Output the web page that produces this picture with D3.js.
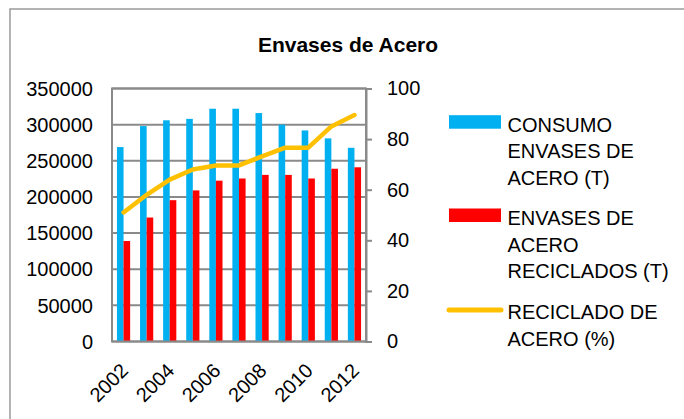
<!DOCTYPE html>
<html><head><meta charset="utf-8">
<script src="https://cdn.jsdelivr.net/npm/d3@7"></script>
<style>
html,body{margin:0;padding:0;background:#fff;}
svg text{font-family:"Liberation Sans",Arial,sans-serif;fill:#000;}
</style></head>
<body>
<svg id="chart" width="684" height="419"></svg>
<script>
const years = ["2002","2003","2004","2005","2006","2007","2008","2009","2010","2011","2012"];
const consumo = [269000,298000,306000,308000,322000,322000,316000,300000,292000,281000,268000];
const reciclados = [139000,171500,195500,209000,222500,225500,230500,230500,225500,239000,241000];
const porcentaje = [51,58,64,68,69.6,69.6,73.2,76.6,76.6,85,89.5];
const leftTicks = [0,50000,100000,150000,200000,250000,300000,350000];
const rightTicks = [0,20,40,60,80,100];
const xLabels = ["2002","2004","2006","2008","2010","2012"];
const legendItems = [
  {lines:["CONSUMO","ENVASES DE","ACERO (T)"], color:"#00B0F0", type:"bar"},
  {lines:["ENVASES DE","ACERO","RECICLADOS (T)"], color:"#FF0000", type:"bar"},
  {lines:["RECICLADO DE","ACERO (%)"], color:"#FFC000", type:"line"}
];

const svg = d3.select("#chart");
const L = 112, R = 366, T = 88.5, B = 341.5;
const gray = "#8a8a8a";

// outer frame
svg.append("rect").attr("x",10).attr("y",9).attr("width",720).attr("height",500)
  .attr("fill","none").attr("stroke","#9a9a9a").attr("stroke-width",1.5);

// title
svg.append("text").attr("x",348).attr("y",52).attr("text-anchor","middle")
  .style("font-size","21px").style("font-weight","bold").text("Envases de Acero");

const x = d3.scaleBand().domain(years).range([L,R]).padding(0);
const yL = d3.scaleLinear().domain([0,350000]).range([B,T]);
const yR = d3.scaleLinear().domain([0,100]).range([B,T]);

// gridlines
svg.append("g").selectAll("line").data(leftTicks).join("line")
  .attr("x1",L).attr("x2",R).attr("y1",d=>yL(d)).attr("y2",d=>yL(d))
  .attr("stroke",gray).attr("stroke-width",2);

// bars
const bw = x.bandwidth()/3.5;
svg.append("g").selectAll("rect").data(years).join("rect")
  .attr("x",d=>x(d)+x.bandwidth()/2-bw).attr("width",bw)
  .attr("y",(d,i)=>yL(consumo[i])).attr("height",(d,i)=>B-yL(consumo[i]))
  .attr("fill","#00B0F0");
svg.append("g").selectAll("rect").data(years).join("rect")
  .attr("x",d=>x(d)+x.bandwidth()/2).attr("width",bw)
  .attr("y",(d,i)=>yL(reciclados[i])).attr("height",(d,i)=>B-yL(reciclados[i]))
  .attr("fill","#FF0000");

// plot frame
svg.append("rect").attr("x",L).attr("y",T).attr("width",R-L).attr("height",B-T)
  .attr("fill","none").attr("stroke",gray).attr("stroke-width",2);

// left axis labels
svg.append("g").selectAll("text").data(leftTicks).join("text")
  .attr("x",93).attr("y",d=>yL(d)).attr("dy","0.36em").attr("text-anchor","end")
  .style("font-size","20px").text(d=>d);

// right axis
const rAxis = d3.axisRight(yR).tickValues(rightTicks).tickSize(6).tickPadding(15).tickFormat(d3.format("d"));
const gR = svg.append("g").attr("transform",`translate(${R},0)`).call(rAxis);
gR.select(".domain").attr("stroke",gray).attr("stroke-width",2);
gR.selectAll(".tick line").attr("stroke",gray).attr("stroke-width",2);
gR.selectAll(".tick text").style("font-size","20px").style("font-family","Liberation Sans, Arial, sans-serif").attr("fill","#000");

// x labels
svg.append("g").selectAll("text").data(xLabels).join("text")
  .attr("text-anchor","end")
  .attr("transform",d=>`translate(${x(d)+x.bandwidth()/2-4},${362}) rotate(-45)`)
  .attr("dy","0.7em")
  .style("font-size","20px").text(d=>d);

// line
const line = d3.line().x((d,i)=>x(years[i])+x.bandwidth()/2).y(d=>yR(d));
svg.append("path").datum(porcentaje).attr("d",line).attr("fill","none")
  .attr("stroke","#FFC000").attr("stroke-width",4.5)
  .attr("stroke-linejoin","round").attr("stroke-linecap","round");

// legend
const starts = [131.7,225,319];
legendItems.forEach((it,k)=>{
  const y0 = starts[k];
  if(it.type==="bar"){
    svg.append("rect").attr("x",449).attr("y",y0-16.5).attr("width",52).attr("height",13.5).attr("fill",it.color);
  } else {
    svg.append("line").attr("x1",449).attr("x2",501).attr("y1",y0-9).attr("y2",y0-9)
      .attr("stroke",it.color).attr("stroke-width",5).attr("stroke-linecap","round");
  }
  it.lines.forEach((t,j)=>{
    svg.append("text").attr("x",507.5).attr("y",y0+j*26.7).style("font-size","20px").text(t);
  });
});
</script>
</body></html>
